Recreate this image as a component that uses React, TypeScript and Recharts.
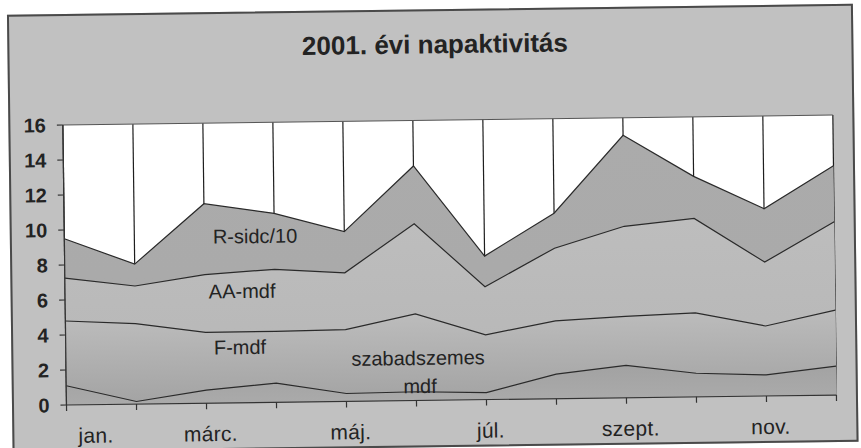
import React from 'react';
import { AreaChart, Area, XAxis, YAxis, CartesianGrid, ReferenceLine } from 'recharts';

// categories (months of 2001)
const months = ['jan.', 'febr.', 'márc.', 'ápr.', 'máj.', 'jún.', 'júl.', 'aug.', 'szept.', 'okt.', 'nov.', 'dec.'];
const shownMonths = ['jan.', 'márc.', 'máj.', 'júl.', 'szept.', 'nov.'];

// series values
const rSidc10 = [9.5, 8.0, 11.4, 10.8, 9.7, 13.4, 8.2, 10.6, 15.0, 12.6, 10.7, 13.1];
const aaMdf = [7.25, 6.75, 7.35, 7.6, 7.35, 10.1, 6.45, 8.6, 9.8, 10.2, 7.65, 9.9];
const fMdf = [4.8, 4.6, 4.05, 4.05, 4.1, 4.95, 3.7, 4.45, 4.65, 4.8, 4.0, 4.85];
const szabadszemesMdf = [1.1, 0.15, 0.75, 1.1, 0.45, 0.5, 0.4, 1.4, 1.85, 1.35, 1.2, 1.65];

const yTicks = [0, 2, 4, 6, 8, 10, 12, 14, 16];
const title = '2001. évi napaktivitás';
const seriesLabels = ['R-sidc/10', 'AA-mdf', 'F-mdf', 'szabadszemes', 'mdf'];

const data = months.map((m, i) => ({
  month: m,
  r: rSidc10[i],
  aa: aaMdf[i],
  f: fMdf[i],
  sz: szabadszemesMdf[i],
}));

const FONT = '"Liberation Sans", Arial, sans-serif';
const TEXT = '#232323';

const MonthTick = (props: any) => {
  const { x, y, payload, index } = props;
  const label = payload.value as string;
  if (!shownMonths.includes(label)) return null;
  const dx = index === 0 ? 29 : 4;
  return (
    <text
      x={x + dx}
      y={y + 32}
      textAnchor="middle"
      fill={TEXT}
      fontSize={21}
      fontFamily={FONT}
      letterSpacing={0.3}
    >
      {label}
    </text>
  );
};

export default function App() {
  return (
    <div style={{ position: 'absolute', left: 0, top: 0, width: 861, height: 448, overflow: 'hidden', background: '#ffffff' }}>
      <div
        style={{
          position: 'absolute',
          left: 0,
          top: 0,
          width: 861,
          height: 448,
          transform: 'rotate(-0.74deg)',
          transformOrigin: '66.5px 405px',
        }}
      >
        <div
          style={{
            position: 'absolute',
            left: 12,
            top: 14,
            width: 846,
            height: 438,
            boxSizing: 'border-box',
            border: '2px solid #4a4a4a',
            background: '#c1c1c1',
          }}
        />
        <div style={{ position: 'absolute', left: 0, top: 0 }}>
          <AreaChart
            width={861}
            height={448}
            data={data}
            margin={{ top: 125, right: 24.5, bottom: 13, left: 10.5 }}
          >
            <defs>
              <linearGradient id="gR" x1="0" y1="0" x2="0" y2="1">
                <stop offset="0%" stopColor="#ababab" />
                <stop offset="100%" stopColor="#a9a9a9" />
              </linearGradient>
              <linearGradient id="gAA" x1="0" y1="0" x2="0" y2="1">
                <stop offset="0%" stopColor="#bdbdbd" />
                <stop offset="100%" stopColor="#b6b6b6" />
              </linearGradient>
              <linearGradient id="gF" x1="0" y1="0" x2="0" y2="1">
                <stop offset="0%" stopColor="#bcbcbc" />
                <stop offset="100%" stopColor="#a3a3a3" />
              </linearGradient>
              <linearGradient id="gS" x1="0" y1="0" x2="0" y2="1">
                <stop offset="0%" stopColor="#a2a2a2" />
                <stop offset="100%" stopColor="#aaaaaa" />
              </linearGradient>
            </defs>
            <CartesianGrid horizontal={false} vertical stroke="#1e1e1e" strokeWidth={1.2} fill="#ffffff" />
            <XAxis
              dataKey="month"
              interval={0}
              height={30}
              tickSize={6}
              tickMargin={0}
              tick={<MonthTick />}
              axisLine={{ stroke: '#333', strokeWidth: 1.2 }}
              tickLine={{ stroke: '#333', strokeWidth: 1.2 }}
              padding={{ left: 0, right: 0 }}
            />
            <YAxis
              domain={[0, 16]}
              ticks={yTicks}
              width={56}
              tickSize={6}
              tickMargin={11}
              interval={0}
              axisLine={{ stroke: '#333', strokeWidth: 1.2 }}
              tickLine={{ stroke: '#333', strokeWidth: 1.2 }}
              tick={{ fill: TEXT, fontSize: 20, fontWeight: 700, fontFamily: FONT }}
            />
            <ReferenceLine y={16} stroke="#555" strokeWidth={1} />
            <Area type="linear" dataKey="r" stroke="#2a2a2a" strokeWidth={1.2} fill="url(#gR)" fillOpacity={1} isAnimationActive={false} />
            <Area type="linear" dataKey="aa" stroke="#2a2a2a" strokeWidth={1.2} fill="url(#gAA)" fillOpacity={1} isAnimationActive={false} />
            <Area type="linear" dataKey="f" stroke="#2a2a2a" strokeWidth={1.2} fill="url(#gF)" fillOpacity={1} isAnimationActive={false} />
            <Area type="linear" dataKey="sz" stroke="#2a2a2a" strokeWidth={1.2} fill="url(#gS)" fillOpacity={1} isAnimationActive={false} />
          </AreaChart>
        </div>
        <svg width={861} height={448} style={{ position: 'absolute', left: 0, top: 0, pointerEvents: 'none' }}>
          <text x={439.6} y={58} textAnchor="middle" fontSize={26} fontWeight={700} fontFamily={FONT} fill={TEXT}>
            {title}
          </text>
          <text x={257.2} y={245.5} textAnchor="middle" fontSize={20} fontFamily={FONT} fill={TEXT}>{seriesLabels[0]}</text>
          <text x={243.5} y={300.4} textAnchor="middle" fontSize={20} fontFamily={FONT} fill={TEXT}>{seriesLabels[1]}</text>
          <text x={240.7} y={356.3} textAnchor="middle" fontSize={20} fontFamily={FONT} fill={TEXT}>{seriesLabels[2]}</text>
          <text x={418.6} y={369.5} textAnchor="middle" fontSize={20} fontFamily={FONT} fill={TEXT}>{seriesLabels[3]}</text>
          <text x={420.2} y={397.6} textAnchor="middle" fontSize={20} fontFamily={FONT} fill={TEXT}>{seriesLabels[4]}</text>
        </svg>
      </div>
    </div>
  );
}
